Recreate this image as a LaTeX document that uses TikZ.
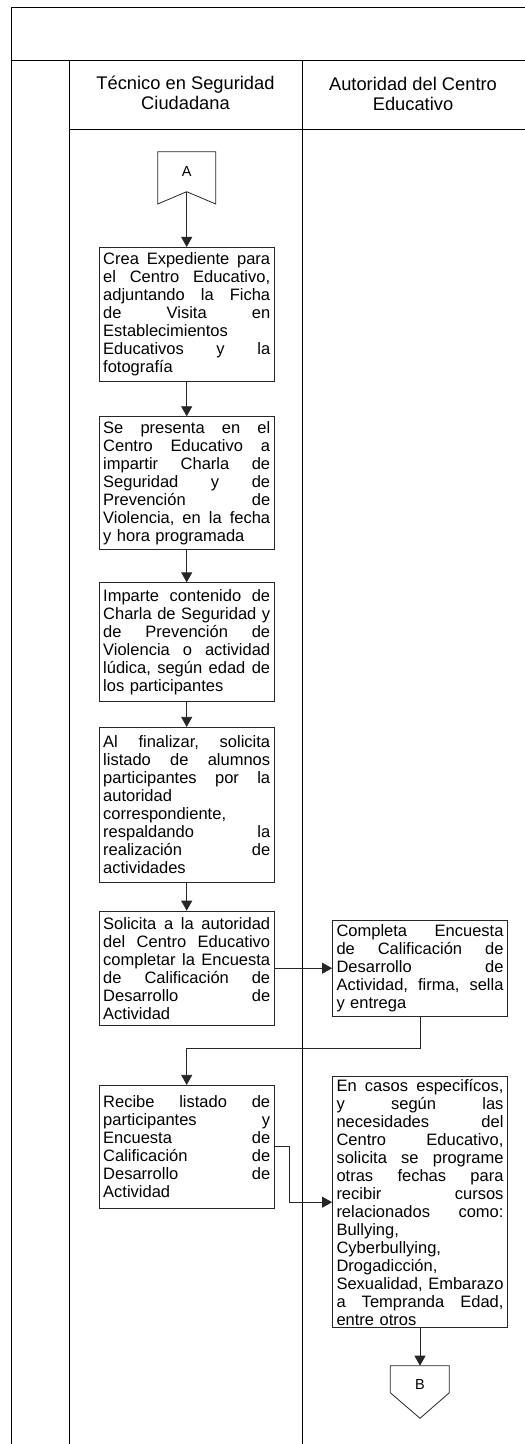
\documentclass[tikz,border=0pt]{standalone}
\usepackage{fontspec}
\setmainfont{Liberation Sans}
\usetikzlibrary{arrows.meta,calc}
\newlength\bw
\setlength\bw{167pt}
\newcommand\jl[1]{\leavevmode\hbox to\bw{#1}}
\newcommand\hf{\hfill\ }
\tikzset{
  frame/.style={line width=0.9pt, black},
  thickframe/.style={line width=1.6pt, black},
  stepbox/.style={draw=black!85, line width=0.8pt, minimum width=175pt, text width=\bw,
    inner xsep=4pt, inner ysep=0pt, align=left, font=\fontsize{16.5}{18}\selectfont},
  header/.style={align=center, font=\fontsize{18.3}{20}\selectfont},
  conn/.style={draw=black!85, line width=0.8pt},
  arr/.style={line width=0.8pt, draw=black!85, -{Triangle[length=10pt,width=11pt]}},
  lbl/.style={font=\fontsize{14.5}{16}\selectfont, inner sep=0pt}
}
\begin{document}
\begin{tikzpicture}[x=1pt,y=-1pt]
\useasboundingbox (0,0) rectangle (525,1444);
% frame
\draw[frame] (11,7) -- (530,7);
\draw[frame] (11,60) -- (530,60);
\draw[frame] (69,129) -- (530,129);
\draw[thickframe] (11.5,7) -- (11.5,1450);
\draw[thickframe] (69.5,60) -- (69.5,1450);
\draw[frame] (302,60) -- (302,1450);
\draw[frame] (526,7) -- (526,1450);
% headers
\node[header] (h1) at (185.5,92.6) {Técnico en Seguridad\\Ciudadana};
\node[header] (h2) at (413,94.2) {Autoridad del Centro\\Educativo};
% connector A
\draw[conn] (157.7,151.7) -- (215.7,151.7) -- (215.7,204) -- (186.7,191.7) -- (157.7,204) -- cycle;
\node[lbl] (A) at (186.7,172) {A};
\coordinate (Anotch) at (186.7,191.7);
% boxes
\node[stepbox, minimum height=133.7pt] (b1) at (186.7,314.2) {\jl{Crea\hf Expediente\hf para}\\\jl{el\hf Centro\hf Educativo,}\\\jl{adjuntando\hf la\hf Ficha}\\\jl{de\hf Visita\hf en}\\Establecimientos\\\jl{Educativos\hf y\hf la}\\fotografía};
\node[stepbox, minimum height=132.6pt] (b2) at (186.7,483) {\jl{Se\hf presenta\hf en\hf el}\\\jl{Centro\hf Educativo\hf a}\\\jl{impartir\hf Charla\hf de}\\\jl{Seguridad\hf y\hf de}\\\jl{Prevención\hf de}\\\jl{Violencia,\hf en\hf la\hf fecha}\\y hora programada};
\node[stepbox, minimum height=118.3pt] (b3) at (186.7,641.9) {\jl{Imparte\hf contenido\hf de}\\\jl{Charla\hf de\hf Seguridad\hf y}\\\jl{de\hf Prevención\hf de}\\\jl{Violencia\hf o\hf actividad}\\\jl{lúdica,\hf según\hf edad\hf de}\\los participantes};
\node[stepbox, minimum height=155pt] (b4) at (186.7,804.8) {\jl{Al\hf finalizar,\hf solicita}\\\jl{listado\hf de\hf alumnos}\\\jl{participantes\hf por\hf la}\\autoridad\\correspondiente,\\\jl{respaldando\hf la}\\\jl{realización\hf de}\\actividades};
\node[stepbox, minimum height=114.3pt] (b5) at (186.7,968.2) {\jl{Solicita\hf a\hf la\hf autoridad}\\\jl{del\hf Centro\hf Educativo}\\\jl{completar\hf la\hf Encuesta}\\\jl{de\hf Calificación\hf de}\\\jl{Desarrollo\hf de}\\Actividad};
\node[stepbox, minimum height=95.7pt] (b6) at (420,968.2) {\jl{Completa\hf Encuesta}\\\jl{de\hf Calificación\hf de}\\\jl{Desarrollo\hf de}\\\jl{Actividad,\hf firma,\hf sella}\\y entrega};
\node[stepbox, minimum height=123pt] (b7) at (186.7,1146.8) {\jl{Recibe\hf listado\hf de}\\\jl{participantes\hf y}\\\jl{Encuesta\hf de}\\\jl{Calificación\hf de}\\\jl{Desarrollo\hf de}\\Actividad};
\node[stepbox, minimum height=251pt] (b8) at (420,1202.2) {\jl{En\hf casos\hf especifícos,}\\\jl{y\hf según\hf las}\\\jl{necesidades\hf del}\\\jl{Centro\hf Educativo,}\\\jl{solicita\hf se\hf programe}\\\jl{otras\hf fechas\hf para}\\\jl{recibir\hf cursos}\\\jl{relacionados\hf como:}\\Bullying,\\Cyberbullying,\\Drogadicción,\\\jl{Sexualidad,\hf Embarazo}\\\jl{a\hf Tempranda\hf Edad,}\\entre otros};
% connector B
\draw[conn] (390.3,1365.7) -- (449.3,1365.7) -- (449.3,1392.7) -- (420,1418.3) -- (390.3,1392.7) -- cycle;
\node[lbl] (B) at (420,1384) {B};
\coordinate (Btop) at (420,1365.7);
% connectors
\draw[arr] (Anotch) -- (b1.north);
\draw[arr] (b1.south) -- (b2.north);
\draw[arr] (b2.south) -- (b3.north);
\draw[arr] (b3.south) -- (b4.north);
\draw[arr] (b4.south) -- (b5.north);
\draw[arr] (b5.east) -- (b6.west);
\draw[arr] (b6.south) -- ++(0,31.7) -| (b7.north);
\draw[arr] (b7.east) -- ++(15,0) |- (b8.west);
\draw[arr] (b8.south) -- (Btop);
\end{tikzpicture}
\end{document}
